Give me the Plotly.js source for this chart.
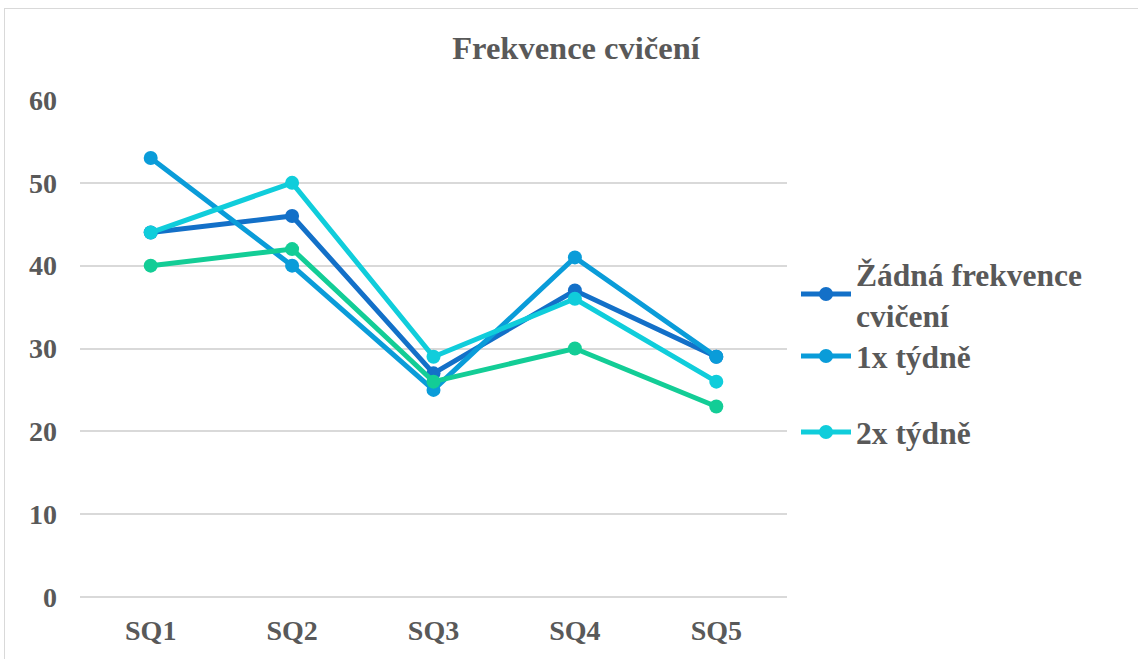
<!DOCTYPE html>
<html>
<head>
<meta charset="utf-8">
<script src="https://cdn.plot.ly/plotly-3.0.1.min.js"></script>
<style>
  html, body { margin: 0; padding: 0; background: #ffffff; overflow: hidden; }
  #frame { position: absolute; left: 4px; top: 8px; width: 1200px; height: 700px;
           border: 1.5px solid #d9d9d9; box-sizing: border-box; }
  #chart { position: absolute; left: 0; top: 0; width: 1138px; height: 659px; }
</style>
</head>
<body>
<div id="frame"></div>
<div id="chart"></div>
<script>
// Survey questions on the horizontal axis
const categories = ['SQ1', 'SQ2', 'SQ3', 'SQ4', 'SQ5'];

// Scores per exercise-frequency group
const zadnaFrekvence = [44, 46, 27, 37, 29];
const jednouTydne   = [53, 40, 25, 41, 29];
const dvakratTydne  = [44, 50, 29, 36, 26];
const trikratTydne  = [40, 42, 26, 30, 23];

const seriesNames = ['Žádná frekvence<br>cvičení', '1x týdně', '2x týdně', '3x týdně'];
const seriesColors = ['#1370c8', '#0a9cd9', '#10cddb', '#13cd96'];

const textColor = '#595959';
const fontFamily = '"Liberation Serif", "Times New Roman", serif';

function series(y, i, legendId, show) {
  return {
    type: 'scatter',
    mode: 'lines+markers',
    x: categories,
    y: y,
    name: seriesNames[i],
    legend: legendId,
    showlegend: show,
    line: { color: seriesColors[i], width: 5 },
    marker: { color: seriesColors[i], size: 14 },
    cliponaxis: false
  };
}

const data = [
  series(zadnaFrekvence, 0, 'legend', true),
  series(jednouTydne, 1, 'legend2', true),
  series(dvakratTydne, 2, 'legend3', true),
  series(trikratTydne, 3, 'legend', false)
];

const legendFont = { family: fontFamily, size: 31.5, color: textColor, weight: 'bold' };
function legendAt(yPix) {
  return {
    x: 796 / 1138, xref: 'container', xanchor: 'left',
    y: 1 - yPix / 659, yref: 'container', yanchor: 'middle',
    itemwidth: 50,
    font: legendFont, bgcolor: 'rgba(0,0,0,0)', borderwidth: 0
  };
}

const layout = {
  width: 1138,
  height: 659,
  paper_bgcolor: 'rgba(0,0,0,0)',
  plot_bgcolor: 'rgba(0,0,0,0)',
  margin: { l: 80, r: 351, t: 100, b: 62 },
  font: { family: fontFamily, color: textColor },
  title: {
    text: '<b>Frekvence cvičení</b>',
    font: { family: fontFamily, size: 32.5, color: textColor },
    x: 576 / 1138, xref: 'container', xanchor: 'center',
    y: 1 - 48 / 659, yref: 'container', yanchor: 'middle'
  },
  xaxis: {
    type: 'category',
    range: [-0.5, 4.5],
    showgrid: false,
    showline: false,
    zeroline: false,
    ticks: '',
    ticklabelstandoff: 14,
    tickfont: { family: fontFamily, size: 28, color: textColor, weight: 'bold' }
  },
  yaxis: {
    range: [0, 60],
    dtick: 10,
    showgrid: true,
    gridcolor: '#d9d9d9',
    gridwidth: 2,
    zeroline: true,
    zerolinecolor: '#d9d9d9',
    zerolinewidth: 2,
    showline: false,
    ticks: '',
    ticklabelstandoff: 22,
    tickfont: { family: fontFamily, size: 28, color: textColor, weight: 'bold' }
  },
  legend: legendAt(294),
  legend2: legendAt(356),
  legend3: legendAt(432),
  showlegend: true
};

Plotly.newPlot('chart', data, layout, { staticPlot: true, displayModeBar: false });
</script>
</body>
</html>
